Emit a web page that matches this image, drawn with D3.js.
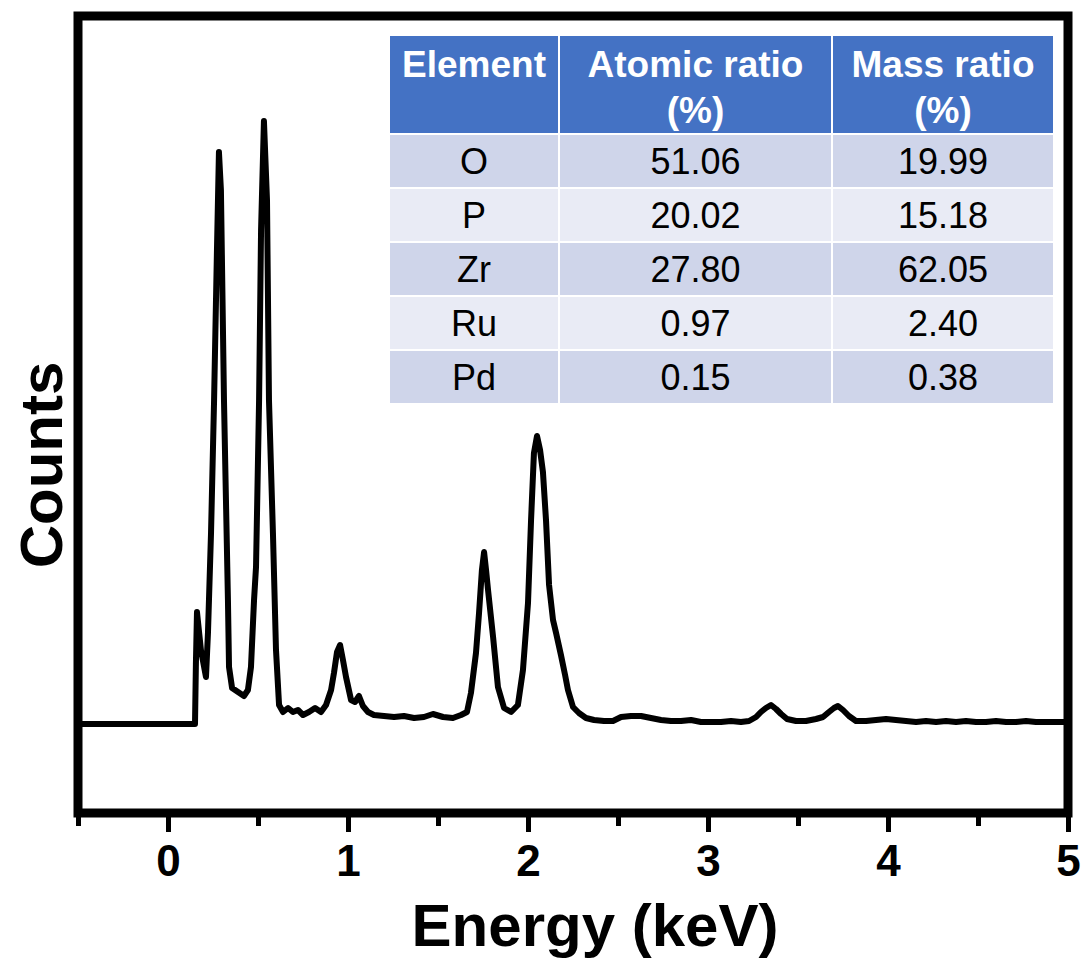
<!DOCTYPE html>
<html>
<head>
<meta charset="utf-8">
<script src="https://cdn.jsdelivr.net/npm/d3@7"></script>
<style>
  body { margin: 0; background: #fff; }
  svg { display: block; font-family: "Liberation Sans", Arial, sans-serif; }
</style>
</head>
<body>
<svg></svg>
<script>
// EDS spectrum (energy in keV, counts in arbitrary units)
let energy = [-0.5, 0.15, 0.155, 0.161, 0.183, 0.211, 0.222, 0.239, 0.256, 0.272, 0.283, 0.294, 0.311, 0.322, 0.333, 0.339,
  0.356, 0.389, 0.422, 0.444, 0.461, 0.478, 0.489, 0.506, 0.517, 0.533, 0.55, 0.561, 0.583, 0.6, 0.617, 0.639,
  0.667, 0.694, 0.722, 0.75, 0.783, 0.817, 0.85, 0.878, 0.906, 0.922, 0.939, 0.956, 0.972, 0.989, 1.017, 1.039,
  1.061, 1.083, 1.111, 1.144, 1.2, 1.256, 1.311, 1.367, 1.422, 1.472, 1.528, 1.583, 1.628, 1.661, 1.683, 1.711,
  1.728, 1.744, 1.756, 1.767, 1.778, 1.806, 1.833, 1.867, 1.906, 1.944, 1.972, 2.0, 2.017, 2.033, 2.05, 2.067,
  2.083, 2.1, 2.117, 2.139, 2.156, 2.183, 2.206, 2.222, 2.25, 2.283, 2.322, 2.367, 2.422, 2.472, 2.517, 2.572,
  2.628, 2.683, 2.739, 2.794, 2.85, 2.906, 2.961, 3.017, 3.072, 3.128, 3.183, 3.228, 3.267, 3.294, 3.322, 3.35,
  3.378, 3.406, 3.439, 3.489, 3.544, 3.6, 3.639, 3.672, 3.7, 3.722, 3.75, 3.783, 3.822, 3.878, 3.933, 3.989,
  4.044, 4.1, 4.156, 4.211, 4.267, 4.322, 4.378, 4.433, 4.489, 4.544, 4.6, 4.656, 4.711, 4.767, 4.822, 4.878,
  4.933, 4.99]
let counts = [0, 0, 60, 112, 74, 47, 91, 191, 324, 474, 572, 534, 324, 224, 124, 57,
  36, 32, 28, 34, 57, 124, 157, 324, 494, 603, 524, 324, 191, 74, 19, 12,
  16, 12, 14, 9, 12, 16, 12, 19, 34, 51, 72, 79, 64, 47, 24, 22,
  28, 18, 12, 9, 8, 7, 8, 6, 7, 10, 7, 6, 9, 12, 31, 71,
  111, 154, 172, 154, 134, 87, 37, 16, 12, 19, 54, 121, 204, 271, 288, 274,
  252, 204, 139, 104, 91, 69, 49, 34, 17, 11, 6, 4, 3, 3, 7, 8,
  8, 6, 4, 3, 3, 4, 2, 2, 2, 3, 2, 3, 7, 12, 16, 19,
  15, 10, 5, 3, 3, 5, 7, 12, 16, 18, 14, 8, 3, 3, 4, 5,
  4, 3, 2, 3, 2, 3, 2, 3, 2, 2, 3, 2, 2, 3, 2, 2,
  2, 2]

let majorTicks = [0, 1, 2, 3, 4, 5]
let minorTicks = [-0.5, 0.5, 1.5, 2.5, 3.5, 4.5]

// table in the top right corner
let tableHeader = [["Element"], ["Atomic ratio", "(%)"], ["Mass ratio", "(%)"]]
let elements = ["O", "P", "Zr", "Ru", "Pd"]
let atomicRatio = ["51.06", "20.02", "27.80", "0.97", "0.15"]
let massRatio = ["19.99", "15.18", "62.05", "2.40", "0.38"]

let width = 1088
let height = 961
let plotLeft = 78, plotRight = 1068, plotTop = 16, plotBottom = 813

let svg = d3.select('svg').attr('width', width).attr('height', height)

let xScale = d3.scaleLinear().domain([-0.5, 5]).range([plotLeft, plotRight])
let yScale = d3.scaleLinear().domain([-89, 708]).range([plotBottom, plotTop])

let points = energy.map((e, i) => [e, counts[i]])

// spectrum line
svg.append('path')
   .datum(points)
   .attr('fill', 'none')
   .attr('stroke', '#000')
   .attr('stroke-width', 6)
   .attr('stroke-linejoin', 'round')
   .attr('d', d3.line().x(d => xScale(d[0])).y(d => yScale(d[1])))

// ticks under the frame
let minorAxis = svg.append('g')
   .attr('transform', 'translate(0,' + plotBottom + ')')
   .call(d3.axisBottom(xScale).tickValues(minorTicks).tickSize(13).tickFormat(''))
let majorAxis = svg.append('g')
   .attr('transform', 'translate(0,' + plotBottom + ')')
   .call(d3.axisBottom(xScale).tickValues(majorTicks).tickSize(19).tickPadding(13).tickFormat(d3.format('d')))

svg.selectAll('.domain').remove()
svg.selectAll('.tick line').attr('stroke', '#000').attr('stroke-width', 5)
majorAxis.selectAll('text')
   .attr('fill', '#000')
   .style('font-size', '44px')
   .style('font-weight', 'bold')
   .style('font-family', '"Liberation Sans", Arial, sans-serif')

// frame
svg.append('rect')
   .attr('x', plotLeft).attr('y', plotTop)
   .attr('width', plotRight - plotLeft).attr('height', plotBottom - plotTop)
   .attr('fill', 'none').attr('stroke', '#000').attr('stroke-width', 9)

// axis titles
svg.append('text')
   .attr('x', 595).attr('y', 946)
   .attr('text-anchor', 'middle')
   .style('font-size', '60px').style('font-weight', 'bold')
   .text('Energy (keV)')

svg.append('text')
   .attr('transform', 'translate(62,465) rotate(-90)')
   .attr('text-anchor', 'middle')
   .style('font-size', '60px').style('font-weight', 'bold')
   .text('Counts')

// table
let colX = [389, 559, 832, 1054]
let headTop = 35, headBottom = 134, rowH = 54

let tbl = svg.append('g')
tbl.selectAll('rect.head')
   .data(tableHeader)
   .enter().append('rect')
   .attr('x', (d, i) => colX[i]).attr('y', headTop)
   .attr('width', (d, i) => colX[i + 1] - colX[i]).attr('height', headBottom - headTop)
   .attr('fill', '#4472C4').attr('stroke', '#fff').attr('stroke-width', 2)

tableHeader.forEach((lines, i) => {
    let cx = (colX[i] + colX[i + 1]) / 2
    lines.forEach((s, j) => {
        tbl.append('text')
           .attr('x', cx).attr('y', 77 + j * 46)
           .attr('text-anchor', 'middle')
           .attr('fill', '#fff')
           .style('font-size', '37px').style('font-weight', 'bold')
           .text(s)
    })
})

let rows = elements.map((el, i) => [el, atomicRatio[i], massRatio[i]])
rows.forEach((row, r) => {
    let y0 = headBottom + r * rowH
    row.forEach((s, c) => {
        tbl.append('rect')
           .attr('x', colX[c]).attr('y', y0)
           .attr('width', colX[c + 1] - colX[c]).attr('height', rowH)
           .attr('fill', r % 2 === 0 ? '#CFD5EA' : '#E9EBF5')
           .attr('stroke', '#fff').attr('stroke-width', 2)
        tbl.append('text')
           .attr('x', (colX[c] + colX[c + 1]) / 2).attr('y', y0 + rowH / 2 + 13)
           .attr('text-anchor', 'middle')
           .attr('fill', '#000')
           .style('font-size', '36px')
           .text(s)
    })
})
</script>
</body>
</html>
